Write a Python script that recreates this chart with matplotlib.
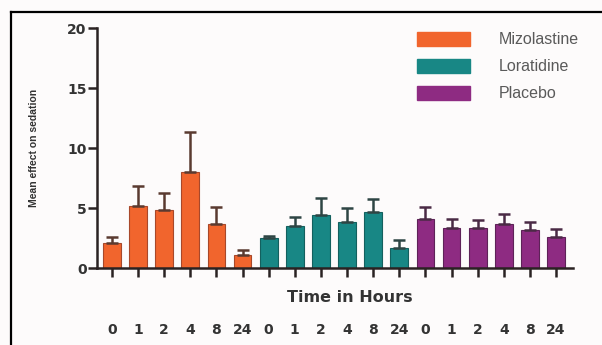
import matplotlib
matplotlib.use("Agg")
import matplotlib.pyplot as plt
from matplotlib.patches import Patch
from matplotlib.lines import Line2D

hours = ["0", "1", "2", "4", "8", "24"]
groups = ["Mizolastine", "Loratidine", "Placebo"]
colors = ["#F1652D", "#188785", "#8E2B82"]
edges = ["#A8482A", "#14605E", "#5E2258"]
err_colors = ["#5A3A30", "#2E4544", "#4A2A45"]

mizolastine = [2.1, 5.2, 4.8, 8.0, 3.7, 1.05]
mizolastine_err = [0.5, 1.65, 1.45, 3.3, 1.4, 0.45]
loratidine = [2.5, 3.5, 4.4, 3.8, 4.65, 1.65]
loratidine_err = [0.15, 0.75, 1.4, 1.2, 1.1, 0.65]
placebo = [4.05, 3.35, 3.35, 3.7, 3.2, 2.55]
placebo_err = [1.05, 0.75, 0.65, 0.8, 0.65, 0.7]

series = [mizolastine, loratidine, placebo]
errors = [mizolastine_err, loratidine_err, placebo_err]

fig = plt.figure(figsize=(6.02, 3.45), dpi=100)
fig.patch.set_facecolor("#FDFBFB")
ax = fig.add_axes([97/602, 1-268/345, (573-97)/602, (268-28)/345])
ax.set_facecolor("none")

pos = 0
tick_pos = []
tick_lab = []
for vals, errs, col, ecol, errc in zip(series, errors, colors, edges, err_colors):
    xs = list(range(pos, pos + len(vals)))
    ax.bar(xs, vals, width=0.68, color=col, edgecolor=ecol, linewidth=0.8, zorder=2)
    ax.errorbar(xs, vals, yerr=[[0]*len(errs), errs], fmt="none", ecolor=errc,
                elinewidth=1.8, capsize=4.5, capthick=1.8, zorder=3)
    tick_pos += xs
    tick_lab += hours
    pos += len(vals)

ax.set_xlim(-0.57, 17.65)
ax.set_ylim(0, 20)
ax.set_yticks([0, 5, 10, 15, 20])
ax.set_xticks(tick_pos)
ax.set_xticklabels(tick_lab)

for s in ["top", "right"]:
    ax.spines[s].set_visible(False)
for s in ["left", "bottom"]:
    ax.spines[s].set_linewidth(1.8)
    ax.spines[s].set_color("#2a2222")

ax.tick_params(axis="y", length=6.5, width=1.8, color="#2a2222", pad=1,
               labelsize=10, labelcolor="#333333")
ax.tick_params(axis="x", length=6.5, width=1.8, color="#2a2222", pad=33,
               labelsize=10, labelcolor="#333333")
for t in ax.get_xticklabels() + ax.get_yticklabels():
    t.set_fontweight("bold")

ax.set_ylabel("Mean effect on sedation", fontsize=7.5, color="#333333",
              fontweight="bold", family="Liberation Sans", labelpad=20)

fig.text(350/602, 1-297/345, "Time in Hours", ha="center", va="center",
         fontsize=11.5, fontweight="bold", color="#333333")

handles = [Patch(facecolor=c, edgecolor=c) for c in colors]
leg = ax.legend(handles, groups, loc="upper left", bbox_to_anchor=(417/602, 1-32/345),
                bbox_transform=fig.transFigure, frameon=False,
                prop={"family": "Liberation Sans", "size": 11.5},
                handlelength=3.3, handleheight=0.95, labelspacing=0.72,
                handletextpad=1.8, borderpad=0, borderaxespad=0)
for t in leg.get_texts():
    t.set_color("#5a5a5a")

# frame lines (left and top)
fig.add_artist(Line2D([11/602, 11/602], [0, 1-12/345], transform=fig.transFigure,
                      color="black", linewidth=1.6))
fig.add_artist(Line2D([11/602, 1], [1-12/345, 1-12/345], transform=fig.transFigure,
                      color="black", linewidth=1.6))

fig.savefig("out.png", dpi=100, facecolor=fig.get_facecolor())
